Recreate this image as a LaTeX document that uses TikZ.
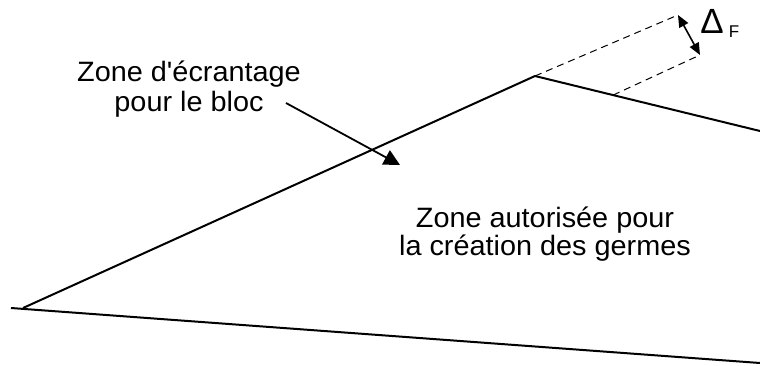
\documentclass[tikz,border=0pt]{standalone}
\usepackage{fontspec}
\setmainfont{Liberation Sans}
\usetikzlibrary{arrows.meta,calc}

\tikzset{
  zonetexte/.style={align=center, inner sep=0pt, xscale=1.03, transform shape},
  bord/.style={line width=1pt},
  cote/.style={dash pattern=on 3.5pt off 2.5pt, line width=0.5pt}
}

\begin{document}
\begin{tikzpicture}[x=0.5pt,y=-0.5pt]
    \useasboundingbox (0,0) rectangle (760,365);
    \coordinate (L) at (23,308); \coordinate (A) at (535,76); \coordinate (R) at (760,131);
    \coordinate (B1) at (11,308); \coordinate (B2) at (760,363);
    \coordinate (A_prime) at (678,15);
    \coordinate (P) at ($(A)!0.347!(R)$);
    \coordinate (P_prime) at (700,55);
    \draw[bord] (L) -- (A) -- (R);
    \draw[bord] (B1) -- (B2);
    \draw[cote] (A) -- (A_prime); \draw[cote] (P) -- (P_prime);
    \draw[line width=0.8pt, {Triangle[length=6pt,width=5pt]}-{Triangle[length=6pt,width=5pt]}] (A_prime) -- (P_prime);
    \node[anchor=base west, inner sep=0pt, font=\fontsize{17.5}{17.5}\selectfont] (deltaF) at (700,33) {Δ\kern2.5pt\raisebox{-2pt}{\fontsize{8.5}{8.5}\selectfont F}};
    \node[zonetexte, font=\fontsize{14}{15}\selectfont] (ecran) at (189,89) {Zone d\textquotesingle écrantage\\pour le bloc};
    \node[zonetexte, font=\fontsize{14}{13.2}\selectfont] (germes) at (545,234) {Zone autorisée pour\\la création des germes};
    \coordinate (ecran_fin) at (286,103); \coordinate (ecran_pointe) at (400,165);
    \draw[line width=0.9pt, -{Triangle[length=8pt,width=8pt]}] (ecran_fin) -- (ecran_pointe);
\end{tikzpicture}
\end{document}
